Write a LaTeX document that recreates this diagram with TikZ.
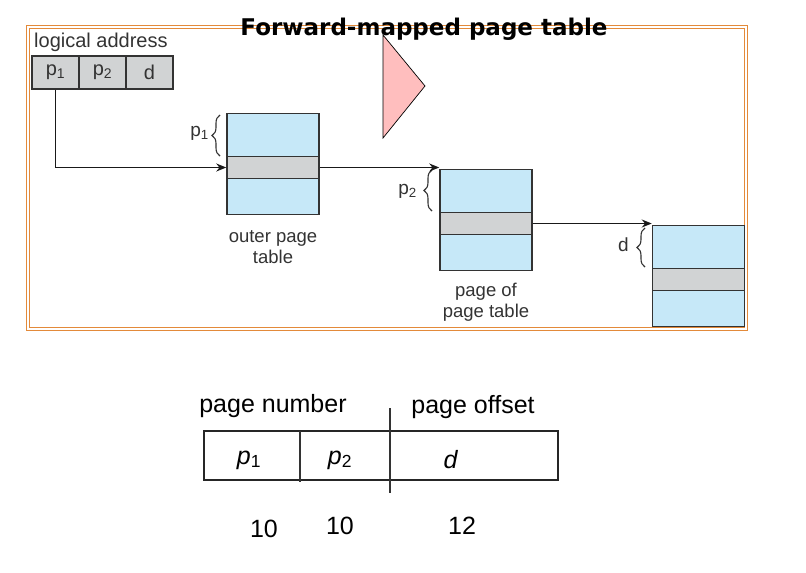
\documentclass[tikz,border=0pt]{standalone}
\usepackage{fontspec}
\setmainfont{Liberation Sans}
\newfontfamily\titlefont{DejaVu Sans}
\usetikzlibrary{arrows.meta,decorations.pathreplacing,calc}
\definecolor{cellgray}{HTML}{D1D3D4}
\definecolor{tblblue}{HTML}{C6E8F8}
\definecolor{framec}{HTML}{E38A3A}
\definecolor{pinkc}{HTML}{FFBEBE}
\definecolor{inkc}{HTML}{333333}
\begin{document}
\begin{tikzpicture}[x=1pt,y=-1pt,
  cell/.style={draw=inkc, fill=cellgray, line width=1.4pt, minimum width=47pt, minimum height=33pt, inner sep=0pt, text=inkc, font=\fontsize{20}{20}\selectfont},
  tbl/.style={draw=inkc, fill=tblblue, line width=1.5pt, minimum width=92pt, minimum height=101pt, inner sep=0pt},
  band/.style={draw=inkc, fill=cellgray, line width=1.5pt, minimum width=92pt, minimum height=22pt, inner sep=0pt},
  lbl/.style={font=\fontsize{18.5}{21}\selectfont, align=center, text=inkc, inner sep=0pt},
  conn/.style={line width=1.8pt, draw=black!90, -{Stealth[length=10pt,width=8pt]}},
  brc/.style={decorate, decoration={brace, amplitude=8pt}, line width=1.1pt, draw=inkc},
  big/.style={font=\fontsize{25}{25}\selectfont, inner sep=0pt}
]
\useasboundingbox (0,0) rectangle (806,573);
% frame
\draw[framec, line width=1.4pt] (26.5,25.5) rectangle (747.5,330.5);
\draw[framec, line width=1.2pt] (29.3,28.3) rectangle (744.8,327.7);
% title
\node[font=\titlefont\bfseries\fontsize{23}{23}\selectfont, anchor=base, inner sep=0pt] (title) at (424,35) {Forward-mapped page table};
% triangle
\draw[fill=pinkc, line width=0.7pt] (383,35) -- (425,86) -- (383,138) -- cycle;
% logical address
\node[lbl, anchor=west, font=\fontsize{20}{20}\selectfont] (la) at (34,42) {logical address};
\node[cell] (c1) at (55.5,72.5) {p\textsubscript{1}};
\node[cell] (c2) at (102.5,72.5) {p\textsubscript{2}};
\node[cell] (c3) at (149.5,72.5) {d};
% tables
\node[tbl] (ot) at (273,164) {};
\node[band] (ob) at (273,167.5) {};
\node[tbl] (pt) at (486,220) {};
\node[band] (pb) at (486,223.5) {};
\node[tbl] (ft) at (698.5,276) {};
\node[band] (fb) at (698.5,279.5) {};
% labels
\node[lbl] (otl) at (273,247) {outer page\\table};
\node[lbl] (ptl) at (486,302) {page of\\page table};
% braces
\draw[brc] (220,156) -- (220,115);
\node[lbl, anchor=east, font=\fontsize{19}{19}\selectfont] (bp1) at (209,133) {p\textsubscript{1}};
\draw[brc] (432,211) -- (432,170);
\node[lbl, anchor=east, font=\fontsize{19}{19}\selectfont] (bp2) at (417,191) {p\textsubscript{2}};
\draw[brc] (645,267) -- (645,228);
\node[lbl, anchor=east, font=\fontsize{19}{19}\selectfont] (bd) at (629,245) {d};
% connectors
\draw[conn] (c1.south) |- (ob.west);
\draw[conn] (ob.east) -- (ob.east -| pt.west);
\draw[conn] (pb.east) -- (pb.east -| ft.west);
% bottom
\node[big, anchor=base] (pn) at (273,412) {page number};
\node[big, anchor=base] (po) at (473,413) {page offset};
\node[draw=black!85, line width=1.1pt, minimum width=354pt, minimum height=49pt, inner sep=0pt] (addr) at (381,455.5) {};
\draw[line width=1.1pt, draw=inkc] (300,431) -- (300,482);
\draw[line width=1.1pt, draw=inkc] (390,408) -- (390,493);
\node[big] (bp1b) at (249,460) {\textit{p}\textsubscript{1}};
\node[big] (bp2b) at (340,460) {\textit{p}\textsubscript{2}};
\node[big] (bdb) at (451,460) {\textit{d}};
\node[big, anchor=base] (n1) at (264,537) {10};
\node[big, anchor=base] (n2) at (340,534) {10};
\node[big, anchor=base] (n3) at (462,534) {12};
\end{tikzpicture}
\end{document}
